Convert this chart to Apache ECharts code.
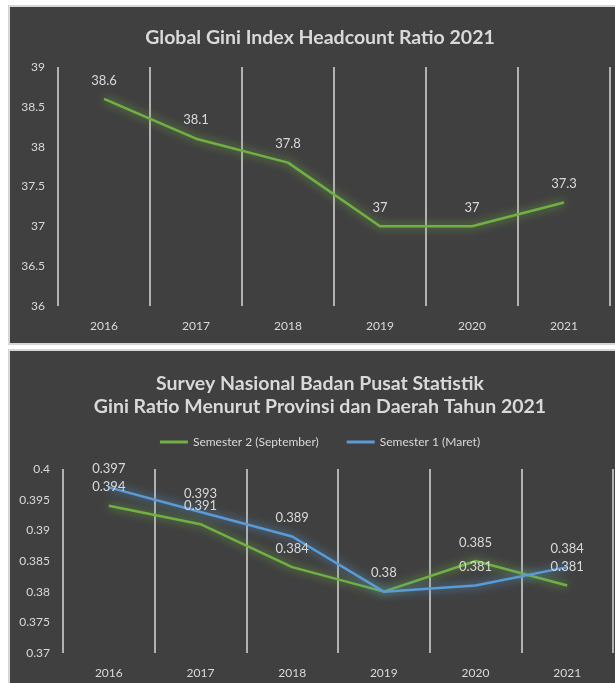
<!DOCTYPE html>
<html>
<head>
<meta charset="utf-8">
<script src="https://cdn.jsdelivr.net/npm/echarts@6/dist/echarts.min.js"></script>
<style>
  body { margin: 0; background: #ffffff; width: 615px; height: 683px; overflow: hidden; position: relative; }
  .panel { position: absolute; left: 8px; width: 620px; background: #404040; border: 2px solid #d6d6d6; }
  #top { top: 5px; height: 336px; }
  #bottom { top: 349px; height: 340px; }
</style>
</head>
<body>
<div id="top" class="panel"></div>
<div id="bottom" class="panel"></div>
<script>
// data
var years = ['2016', '2017', '2018', '2019', '2020', '2021'];
var giniGlobal = [38.6, 38.1, 37.8, 37, 37, 37.3];
var semester2 = [0.394, 0.391, 0.384, 0.38, 0.385, 0.381];
var semester1 = [0.397, 0.393, 0.389, 0.38, 0.381, 0.384];

var txt = '#d9d9d9';
var font = 'Lato';
var green = '#70b044';
var blue = '#5b9bd5';

function xAxis(){
  return {
    type: 'category',
    data: years,
    boundaryGap: true,
    axisLine: { show: false },
    axisTick: { show: false },
    axisLabel: { color: txt, fontFamily: font, fontSize: 12, margin: 14 },
    splitLine: { show: true, lineStyle: { color: '#d9d9d9', width: 1.5 } }
  };
}

function lineSeries(name, data, color, skipLabel){
  return {
    name: name,
    type: 'line',
    // where both lines meet on the same value only one label is drawn
    data: data.map(function(v, i){
      return skipLabel && skipLabel(i) ? { value: v, label: { show: false } } : v;
    }),
    symbol: 'circle',
    symbolSize: 0.1,
    itemStyle: { color: color },
    lineStyle: { color: color, width: 2.5, shadowBlur: 10, shadowColor: color },
    label: { show: true, position: 'top', distance: 12, color: txt, fontFamily: font, fontSize: 13 },
    animation: false
  };
}

var top1 = echarts.init(document.getElementById('top'));
top1.setOption({
  title: {
    text: 'Global Gini Index Headcount Ratio 2021',
    left: 'center', top: 16,
    textStyle: { color: txt, fontFamily: font, fontSize: 19.5, fontWeight: 'bold' }
  },
  grid: { left: 48, top: 60, width: 552, height: 239 },
  xAxis: xAxis(),
  yAxis: {
    type: 'value', min: 36, max: 39, interval: 0.5,
    axisLine: { show: false }, axisTick: { show: false },
    splitLine: { show: false },
    axisLabel: { color: txt, fontFamily: font, fontSize: 12, margin: 13 }
  },
  series: [lineSeries('Gini', giniGlobal, green)]
});

var bottom1 = echarts.init(document.getElementById('bottom'));
bottom1.setOption({
  title: {
    text: 'Survey Nasional Badan Pusat Statistik\nGini Ratio Menurut Provinsi dan Daerah Tahun 2021',
    left: 'center', top: 16,
    textStyle: { color: txt, fontFamily: font, fontSize: 19.5, fontWeight: 'bold', lineHeight: 23 }
  },
  legend: {
    top: 80, left: 'center',
    icon: 'rect', itemWidth: 28, itemHeight: 3, itemGap: 28,
    textStyle: { color: txt, fontFamily: font, fontSize: 12 },
    data: ['Semester 2 (September)', 'Semester 1 (Maret)']
  },
  grid: { left: 53, top: 118, width: 550, height: 184 },
  xAxis: xAxis(),
  yAxis: {
    type: 'value', min: 0.37, max: 0.4, interval: 0.005,
    axisLine: { show: false }, axisTick: { show: false },
    splitLine: { show: false },
    axisLabel: { color: txt, fontFamily: font, fontSize: 12, margin: 13 }
  },
  series: [
    lineSeries('Semester 2 (September)', semester2, green),
    lineSeries('Semester 1 (Maret)', semester1, blue, function(i){ return semester1[i] === semester2[i]; })
  ]
});
</script>
</body>
</html>
